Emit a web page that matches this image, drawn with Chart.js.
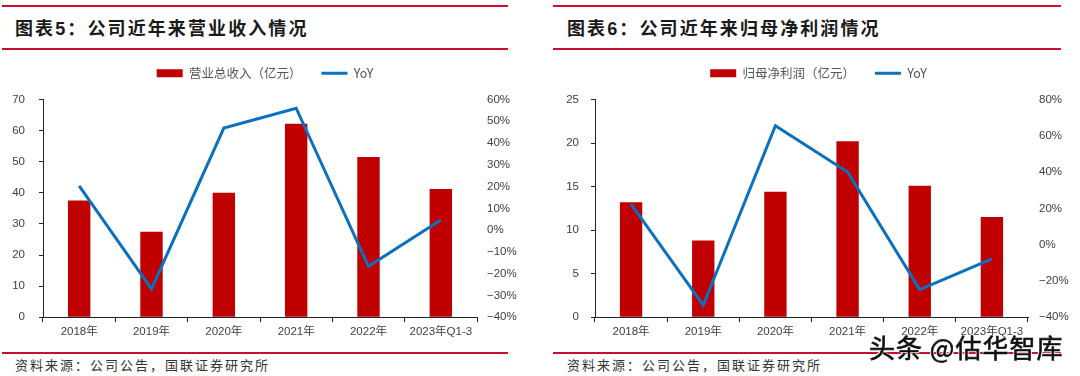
<!DOCTYPE html>
<html lang="zh-CN">
<head>
    <meta charset="UTF-8">
    <title>公司近年来营业收入及归母净利润情况</title>
    <script src="https://cdn.jsdelivr.net/npm/chart.js"></script>
    <style>
        body { margin: 0; width: 1080px; height: 376px; background: #fff; position: relative; overflow: hidden; font-family: "Noto Sans CJK SC", sans-serif; }
        .rule { position: absolute; height: 2px; background: #c8102e; }
        .title { position: absolute; top: 15px; font-size: 18px; font-weight: bold; letter-spacing: 2.1px; color: #1a1a1a; line-height: 24px; }
        .title b { font-family: "Liberation Sans", Arial, sans-serif; }
        .source { position: absolute; top: 355px; font-size: 13px; letter-spacing: 2px; color: #333; line-height: 20px; }
        canvas { position: absolute; top: 47px; }
        .mark { position: absolute; left: 869px; top: 328px; font-size: 26px; color: #111; letter-spacing: 1px;
                -webkit-text-stroke: 0.6px #111; text-shadow: 0 0 2px #fff, 0 0 2px #fff, 1px 1px 0 #fff, -1px -1px 0 #fff; }
    </style>
</head>
<body>
    <div class="rule" style="left:2px; width:506px; top:5px;"></div>
    <div class="title" style="left:15px;">图表<b>5</b>：公司近年来营业收入情况</div>
    <div class="rule" style="left:2px; width:506px; top:48px;"></div>

    <div class="rule" style="left:553px; width:508px; top:5px;"></div>
    <div class="title" style="left:567px;">图表<b>6</b>：公司近年来归母净利润情况</div>
    <div class="rule" style="left:553px; width:508px; top:48px;"></div>

    <canvas id="revenueChart" width="540" height="298" style="left:0;"></canvas>
    <canvas id="profitChart" width="540" height="298" style="left:540px;"></canvas>

    <div class="rule" style="left:2px; width:506px; top:352px;"></div>
    <div class="source" style="left:15px;">资料来源：公司公告，国联证券研究所</div>
    <div class="rule" style="left:553px; width:508px; top:352px;"></div>
    <div class="source" style="left:567px;">资料来源：公司公告，国联证券研究所</div>

    <div class="mark">头条 @估华智库</div>

    <script>
        const years = ['2018年', '2019年', '2020年', '2021年', '2022年', '2023年Q1-3'];

        // 营业总收入（亿元）and YoY (%)
        const revenue = [37.5, 27.5, 40.0, 62.2, 51.5, 41.2];
        const revenueYoY = [20.3, -27.0, 46.9, 56.0, -16.6, 4.6];

        // 归母净利润（亿元）and YoY (%)
        const profit = [13.2, 8.8, 14.4, 20.2, 15.1, 11.5];
        const profitYoY = [22.3, -33.4, 65.6, 40.0, -24.8, -7.8];

        const tickFont = { family: '"Liberation Sans", Arial, "Noto Sans CJK SC"', size: 11.5 };
        const tickColor = '#404040';

        function pct(v) {
            return (v < 0 ? '\u2212' + Math.abs(v) : v) + '%';
        }

        // leave a gap between the legend and the plot area
        const legendGap = {
            id: 'legendGap',
            beforeLayout(chart) {
                if (chart.legend && !chart.legend._gapPatched) {
                    const fit = chart.legend.fit;
                    chart.legend.fit = function () {
                        fit.call(this);
                        this.height += 10;
                    };
                    chart.legend._gapPatched = true;
                }
            }
        };

        function makeChart(id, barLabel, bars, yoy, left, right, pad) {
            return new Chart(document.getElementById(id), {
                data: {
                    labels: years,
                    datasets: [
                        {
                            type: 'line',
                            label: 'YoY',
                            data: yoy,
                            yAxisID: 'y1',
                            borderColor: '#0a70bf',
                            backgroundColor: '#0a70bf',
                            borderWidth: 3,
                            pointRadius: 0,
                            tension: 0,
                            order: 0
                        },
                        {
                            type: 'bar',
                            label: barLabel,
                            data: bars,
                            yAxisID: 'y',
                            backgroundColor: '#c00000',
                            categoryPercentage: 1,
                            barPercentage: 0.31,
                            order: 1
                        }
                    ]
                },
                plugins: [legendGap],
                options: {
                    responsive: false,
                    animation: false,
                    layout: { padding: pad },
                    plugins: {
                        tooltip: { enabled: false },
                        legend: {
                            position: 'top',
                            reverse: true,
                            labels: {
                                usePointStyle: true,
                                pointStyleWidth: 26,
                                boxHeight: 8,
                                padding: 20,
                                color: '#555',
                                font: { family: '"Noto Sans CJK SC"', size: 12.5 },
                                generateLabels: chart => chart.data.datasets.map((ds, i) => ({
                                    text: ds.label,
                                    fillStyle: ds.backgroundColor,
                                    strokeStyle: ds.type === 'line' ? ds.borderColor : ds.backgroundColor,
                                    lineWidth: ds.type === 'line' ? 3 : 0,
                                    pointStyle: ds.type === 'line' ? 'line' : 'rect',
                                    fontColor: '#555',
                                    datasetIndex: i,
                                    hidden: false
                                }))
                            }
                        }
                    },
                    scales: {
                        x: {
                            offset: true,
                            grid: { offset: true, drawOnChartArea: false, tickLength: 5, color: '#222' },
                            border: { color: '#222', width: 1 },
                            ticks: { font: tickFont, color: tickColor, padding: 3, maxRotation: 0, autoSkip: false }
                        },
                        y: {
                            position: 'left',
                            min: 0,
                            max: left.max,
                            grid: { drawOnChartArea: false, tickLength: 4, color: '#222' },
                            border: { color: '#222', width: 1 },
                            ticks: { stepSize: left.step, font: tickFont, color: tickColor, padding: left.pad },
                            afterFit: s => { s.width = left.width; }
                        },
                        y1: {
                            position: 'right',
                            min: right.min,
                            max: right.max,
                            grid: { display: false, drawTicks: false },
                            border: { display: false },
                            ticks: { stepSize: right.step, font: tickFont, color: tickColor, padding: right.pad, callback: pct },
                            afterFit: s => { s.width = right.width; }
                        }
                    }
                }
            });
        }

        makeChart('revenueChart', '营业总收入（亿元）', revenue, revenueYoY,
            { max: 70, step: 10, pad: 14, width: 43 },
            { min: -40, max: 60, step: 10, pad: 10, width: 53 },
            { top: 0, bottom: 3, left: 0, right: 10 });

        makeChart('profitChart', '归母净利润（亿元）', profit, profitYoY,
            { max: 25, step: 5, pad: 12, width: 38 },
            { min: -40, max: 80, step: 20, pad: 11, width: 52 },
            { top: 0, bottom: 3, left: 17, right: 0 });
    </script>
</body>
</html>
